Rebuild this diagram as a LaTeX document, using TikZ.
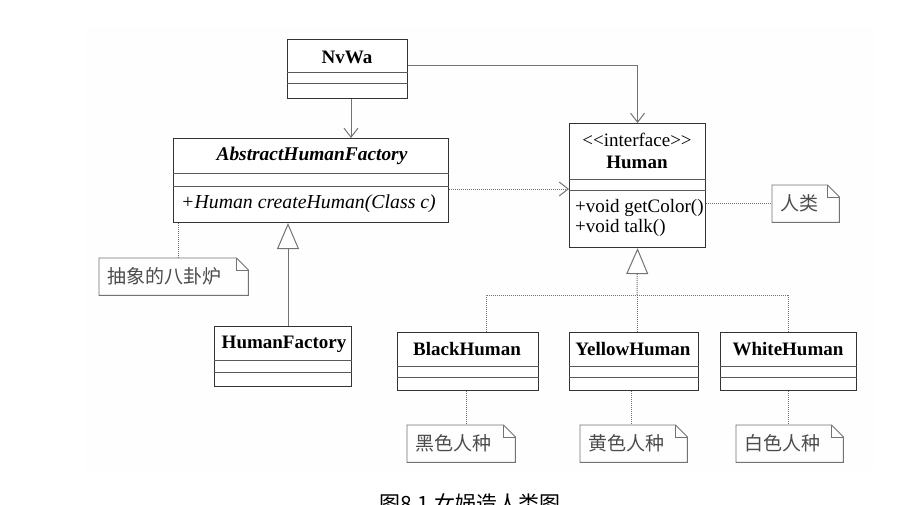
\documentclass[tikz,border=0pt]{standalone}
\usepackage{fontspec}
\setmainfont{Liberation Serif}
\newfontfamily\cjk{Noto Sans CJK SC}
\usetikzlibrary{arrows.meta}
\newcommand\notebox[1]{%
  \draw[noteline] (#1.north west) -- ([xshift=-12pt]#1.north east) -- ([yshift=-12pt]#1.north east) -- (#1.south east) -- (#1.south west) -- cycle;
  \draw[noteline] ([xshift=-12pt]#1.north east) |- ([yshift=-12pt]#1.north east);}
\begin{document}
\begin{tikzpicture}[x=1pt,y=-1pt,
  box/.style={draw=black!80, line width=1.1pt, fill=white, inner sep=0pt, anchor=north west},
  sep/.style={draw=black!65, line width=1pt},
  txt/.style={inner sep=0pt, font=\fontsize{19}{21}\selectfont},
  ttl/.style={txt, font=\fontsize{19}{21}\selectfont\bfseries},
  note/.style={inner xsep=8pt, inner ysep=0pt, anchor=north west, align=left, minimum height=37pt, font=\cjk\fontsize{19}{21}\selectfont, text=black!70},
  noteline/.style={draw=black!55, line width=0.9pt},
  conn/.style={draw=black!55, line width=1pt},
  assoc/.style={conn, -{Straight Barb[length=9pt,width=14pt,line width=1pt]}},
  dep/.style={conn, densely dotted, -{Straight Barb[length=9pt,width=14pt,line width=1pt]}},
  dotc/.style={conn, densely dotted},
  inherit/.style={conn, -{Triangle[length=26pt,width=22pt,fill=white,line width=1pt]}},
  realize/.style={conn, densely dotted, -{Triangle[length=26pt,width=22pt,fill=white,line width=1pt]}}
]
\useasboundingbox (0,0) rectangle (901,505);
\fill[black!0.5] (85,27) rectangle (875,470);

% class boxes
\node[box, minimum width=120pt, minimum height=59pt] (nvwa) at (287,39) {};
\draw[sep] (nvwa.west |- 0,73) -- (nvwa.east |- 0,73);
\draw[sep] (nvwa.west |- 0,84) -- (nvwa.east |- 0,84);
\node[ttl] (nvwat) at (347,57) {NvWa};

\node[box, minimum width=275pt, minimum height=84pt] (ahf) at (173,138) {};
\draw[sep] (ahf.west |- 0,174) -- (ahf.east |- 0,174);
\draw[sep] (ahf.west |- 0,186) -- (ahf.east |- 0,186);
\node[ttl, font=\fontsize{19.4}{21}\selectfont\bfseries\itshape] (ahft) at (312,156) {AbstractHumanFactory};
\node[txt, anchor=west, font=\fontsize{19.8}{21}\selectfont\itshape] (ahfm) at (181,204) {+Human createHuman(Class c)};

\node[box, minimum width=136pt, minimum height=124pt] (human) at (569,123) {};
\draw[sep] (human.west |- 0,179) -- (human.east |- 0,179);
\draw[sep] (human.west |- 0,190) -- (human.east |- 0,190);
\node[txt] (hst) at (637,140) {<\kern0pt<interface>\kern0pt>};
\node[ttl] (ht) at (637,162) {Human};
\node[txt, anchor=west] (hm1) at (575,208) {+void getColor()};
\node[txt, anchor=west] (hm2) at (575,228) {+void talk()};

\node[box, minimum width=137pt, minimum height=60pt] (hf) at (214,326) {};
\draw[sep] (hf.west |- 0,360) -- (hf.east |- 0,360);
\draw[sep] (hf.west |- 0,372) -- (hf.east |- 0,372);
\node[ttl] (hft) at (284,344) {HumanFactory};

\node[box, minimum width=141pt, minimum height=58pt] (black) at (397,332) {};
\node[box, minimum width=129pt, minimum height=58pt] (yellow) at (569,332) {};
\node[box, minimum width=136pt, minimum height=58pt] (white) at (720,332) {};
\foreach \b in {black,yellow,white}{
  \draw[sep] (\b.west |- 0,366) -- (\b.east |- 0,366);
  \draw[sep] (\b.west |- 0,377) -- (\b.east |- 0,377);
}
\node[ttl] (bt) at (467,349) {BlackHuman};
\node[ttl] (yt) at (633,349) {YellowHuman};
\node[ttl] (wt) at (788,349) {WhiteHuman};

% notes
\node[note, text width=133pt] (n0) at (99,258) {抽象的八卦炉};
\node[note, text width=51pt] (nh) at (772,185) {人类};
\node[note, text width=92pt] (nb) at (407,425) {黑色人种};
\node[note, text width=91pt] (ny) at (580,425) {黄色人种};
\node[note, text width=91pt] (nw) at (736,425) {白色人种};
\foreach \n in {n0,nh,nb,ny,nw}{\notebox{\n}}

% connectors
\draw[assoc] (nvwa.south -| 351,0) -- (ahf.north -| 351,0);
\draw[assoc] ([yshift=3.5pt]nvwa.east) -| (human.north);
\draw[dep] (ahf.east |- 0,189) -- (human.west |- 0,189);
\draw[dotc] (human.east |- nh.west) -- (nh.west);
\draw[dotc] (ahf.south -| 178,0) -- (n0.north -| 178,0);
\draw[inherit] (hf.north -| 288,0) -- (ahf.south -| 288,0);
\coordinate (J) at (637,295);
\draw[dotc] (black.north -| 486,0) |- (J) -| (white.north);
\draw[dotc] (yellow.north -| J) -- (J);
\draw[realize] (J) -- (human.south);
\draw[dotc] (black.south -| 466,0) -- (nb.north -| 466,0);
\draw[dotc] (yellow.south -| 631,0) -- (ny.north -| 631,0);
\draw[dotc] (white.south) -- (nw.north -| white.south);

% caption (cut off at the bottom edge, as in the reference)
\node[font=\cjk\fontsize{21}{23}\selectfont, anchor=base west, inner sep=0pt] (cap) at (379,511) {图8.1 女娲造人类图};
\end{tikzpicture}
\end{document}
